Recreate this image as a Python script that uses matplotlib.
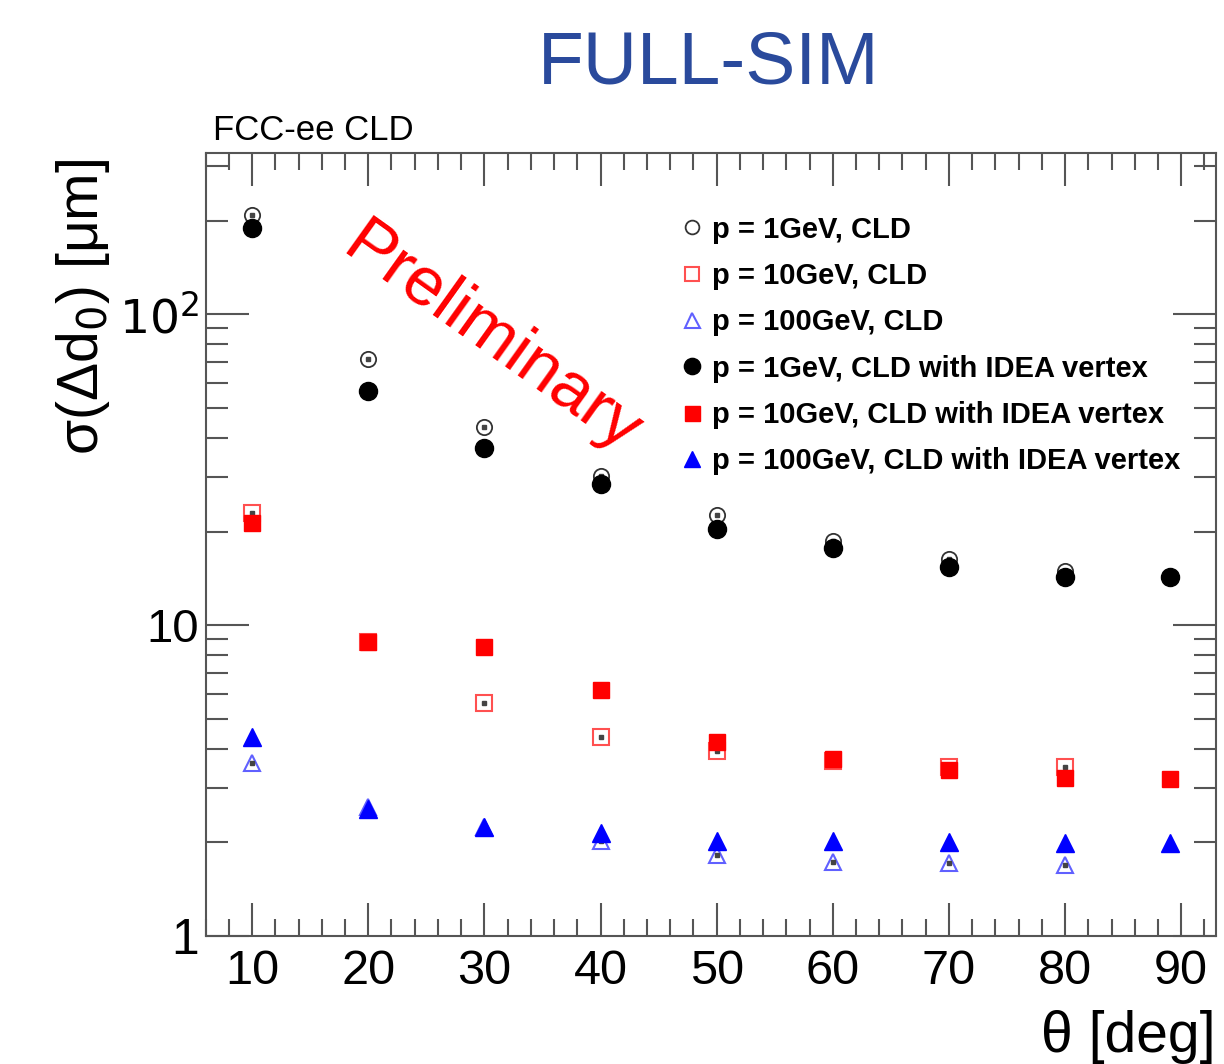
import matplotlib as mpl
import matplotlib.pyplot as plt
import numpy as np
from matplotlib.ticker import FixedLocator, NullFormatter, FixedFormatter

# data
theta = [10, 20, 30, 40, 50, 60, 70, 80]
theta_idea = [10, 20, 30, 40, 50, 60, 70, 80, 89]

p1_cld = [208, 72, 43.5, 30.2, 22.6, 18.7, 16.3, 14.9]
p10_cld = [23.0, 8.8, 5.6, 4.38, 3.95, 3.65, 3.5, 3.5]
p100_cld = [3.59, 2.6, 2.25, 2.02, 1.82, 1.73, 1.72, 1.69]

p1_idea = [189, 56.5, 37.2, 28.5, 20.4, 17.7, 15.4, 14.3, 14.3]
p10_idea = [21.3, 8.8, 8.5, 6.17, 4.2, 3.7, 3.43, 3.23, 3.19]
p100_idea = [4.38, 2.57, 2.25, 2.15, 2.02, 2.02, 2.01, 1.99, 1.99]

labels = ['p = 1GeV, CLD', 'p = 10GeV, CLD', 'p = 100GeV, CLD',
          'p = 1GeV, CLD with IDEA vertex', 'p = 10GeV, CLD with IDEA vertex',
          'p = 100GeV, CLD with IDEA vertex']

mpl.rcParams['font.family'] = ['Liberation Sans', 'DejaVu Sans']
axcol = '#555555'

fig = plt.figure(figsize=(12.24, 10.64), dpi=100)
ax = fig.add_axes([0.168, 0.1203, 0.8255, 0.7359])

# open markers (CLD)
h1, = ax.plot(theta, p1_cld, 'o', ms=11, mfc='none', mec='#333333', mew=1.3, ls='none', zorder=3)
h2, = ax.plot(theta, p10_cld, 's', ms=11, mfc='none', mec='#ff5050', mew=1.5, ls='none', zorder=3)
h3, = ax.plot(theta, p100_cld, '^', ms=12, mfc='none', mec='#6060ff', mew=1.5, ls='none', zorder=3)
# tiny error bars in the middle of the open markers
for vals in (p1_cld, p10_cld, p100_cld):
    ax.plot(theta, vals, 's', ms=2.5, color='#444444', ls='none', zorder=3.5)

# filled markers (IDEA vertex)
h4, = ax.plot(theta_idea, p1_idea, 'o', ms=13, color='black', ls='none', zorder=4)
h5, = ax.plot(theta_idea, p10_idea, 's', ms=12, color='#ff0000', ls='none', zorder=4)
h6, = ax.plot(theta_idea, p100_idea, '^', ms=13, color='#0000ff', ls='none', zorder=4)

ax.set_yscale('log')
ax.set_xlim(6, 93)
ax.set_ylim(1, 330)

# ROOT-like axes
for s in ax.spines.values():
    s.set_color(axcol)
    s.set_linewidth(1.5)
ax.xaxis.set_major_locator(FixedLocator(np.arange(10, 91, 10)))
ax.xaxis.set_minor_locator(FixedLocator(np.arange(6, 93, 2)))
ax.xaxis.set_minor_formatter(NullFormatter())
ax.yaxis.set_major_locator(FixedLocator([1, 10, 100]))
ax.yaxis.set_major_formatter(FixedFormatter(['1', '10', r'$10^2$']))
ax.yaxis.set_minor_locator(FixedLocator([m * d for d in (1, 10, 100) for m in range(2, 10)]))
ax.yaxis.set_minor_formatter(NullFormatter())
ax.tick_params(which='both', direction='in', top=True, right=True, color=axcol, width=1.5)
ax.tick_params(axis='x', which='major', length=24, pad=9)
ax.tick_params(axis='x', which='minor', length=12)
ax.tick_params(axis='y', which='major', length=31, pad=5)
ax.tick_params(axis='y', which='minor', length=16)
for lab in ax.get_xticklabels():
    lab.set_fontsize(35)
for lab in ax.get_yticklabels():
    lab.set_fontsize(34)
ax.yaxis.get_ticklabels()[0].set_fontsize(36)

ax.set_ylabel(r'σ(Δd$_0$) [μm]', fontsize=41)
ax.yaxis.set_label_coords(-0.093, 0.804)
ax.set_xlabel('θ [deg]', fontsize=41, ha='right')
ax.xaxis.set_label_coords(1.0, -0.094)

ax.text(0.007, 1.008, 'FCC-ee CLD', transform=ax.transAxes, fontsize=25, va='bottom', ha='left')
fig.text(0.579, 0.94, 'FULL-SIM', fontsize=54, color='#2a4a9c', ha='center', va='center')
ax.text(0.283, 0.762, 'Preliminary', transform=ax.transAxes, fontsize=50, color='#ff0000',
        rotation=-35.5, rotation_mode='anchor', ha='center', va='center')

leg = ax.legend([h1, h2, h3, h4, h5, h6], labels, loc='upper left', bbox_to_anchor=(0.458, 0.935),
                frameon=False, prop={'weight': 'bold', 'size': 21}, markerscale=0.9,
                handlelength=0.8, handletextpad=0.3, labelspacing=0.63, borderaxespad=0)

fig.savefig('out.png', dpi=100)
